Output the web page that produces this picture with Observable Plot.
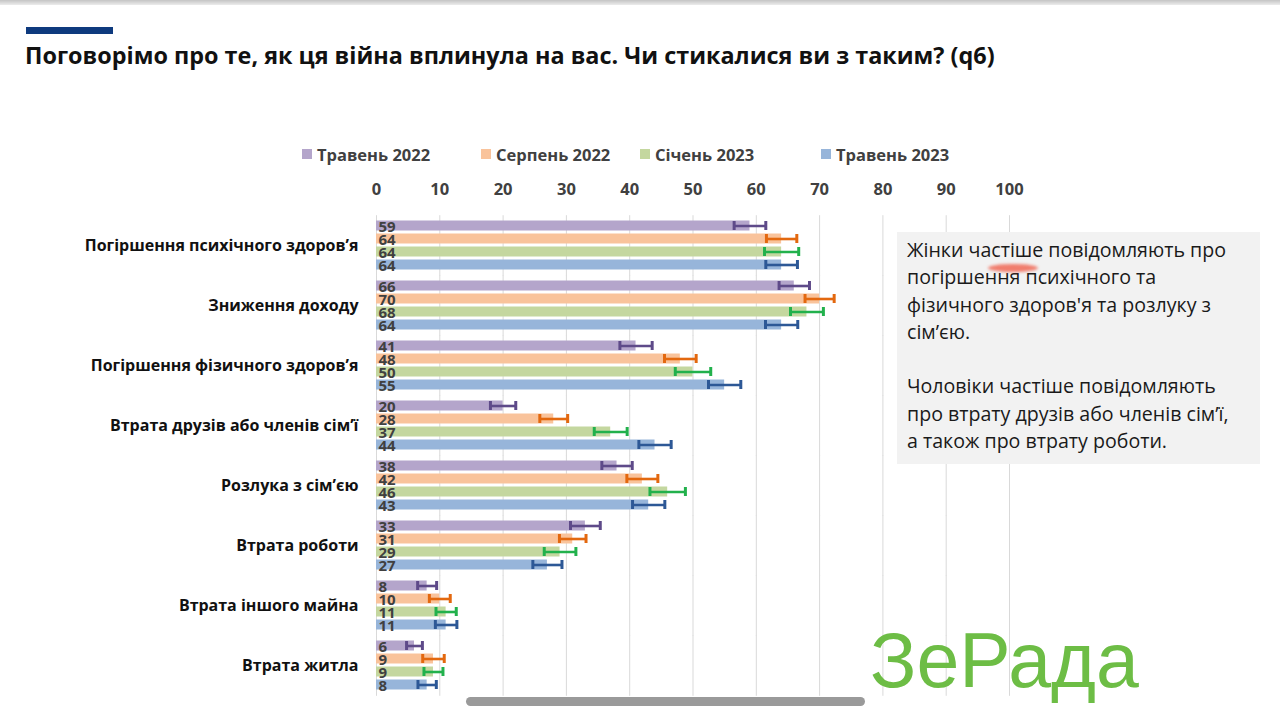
<!DOCTYPE html>
<html><head><meta charset="utf-8">
<script src="https://cdn.jsdelivr.net/npm/d3@7"></script>
<script src="https://cdn.jsdelivr.net/npm/@observablehq/plot@0.6"></script>
<style>
body{margin:0;background:#fff;}
#page{position:relative;width:1280px;height:720px;overflow:hidden;font-family:"Open Sans",sans-serif;background:#fff;}
#page svg{position:absolute;left:0;top:0;}
.topline{position:absolute;left:0;top:0;width:1280px;height:5px;background:linear-gradient(#c4c4c4,#ececec);}
.navy{position:absolute;left:26px;top:27px;width:87px;height:7px;background:#0e3a7e;}
.title{position:absolute;left:25px;top:44px;font-size:23.4px;line-height:23.4px;font-weight:700;color:#111;white-space:nowrap;}
.legend-item{position:absolute;top:144px;height:20px;display:flex;align-items:center;font-size:16.5px;font-weight:700;color:#404040;white-space:nowrap;}
.legend-item span.sw{display:inline-block;width:10px;height:10px;margin-right:5px;}
.note{position:absolute;left:897px;top:232px;width:353px;height:228px;background:#f2f2f2;padding:4px 0 0 10px;font-size:19.6px;line-height:27.3px;color:#1a1a1a;white-space:nowrap;}
.smudge{position:absolute;left:988px;top:264px;width:50px;height:8px;border-radius:50%;background:rgba(240,95,75,.8);filter:blur(1.5px);}
.wm{position:absolute;left:870px;top:622px;font-family:"Liberation Sans",Arial,sans-serif;font-size:77px;line-height:77px;color:#6dbd45;white-space:nowrap;}
.scroll{position:absolute;left:466px;top:697px;width:399px;height:9px;border-radius:5px;background:#9a9a9a;}
</style></head>
<body><div id="page">
<div class="topline"></div>
<div class="navy"></div>
<div class="title">Поговорімо про те, як ця війна вплинула на вас. Чи стикалися ви з таким? (q6)</div>
</div>
<script>
const categories = [
  "Погіршення психічного здоров’я",
  "Зниження доходу",
  "Погіршення фізичного здоров’я",
  "Втрата друзів або членів сім’ї",
  "Розлука з сім’єю",
  "Втрата роботи",
  "Втрата іншого майна",
  "Втрата житла"
];
const series = ["Травень 2022", "Серпень 2022", "Січень 2023", "Травень 2023"];
const may2022 = [59, 66, 41, 20, 38, 33, 8, 6];
const aug2022 = [64, 70, 48, 28, 42, 31, 10, 9];
const jan2023 = [64, 68, 50, 37, 46, 29, 11, 9];
const may2023 = [64, 64, 55, 44, 43, 27, 11, 8];
const errMay2022 = [2.5, 2.4, 2.55, 2.0, 2.4, 2.35, 1.5, 1.25];
const errAug2022 = [2.4, 2.3, 2.5, 2.2, 2.45, 2.1, 1.65, 1.7];
const errJan2023 = [2.7, 2.6, 2.8, 2.6, 2.8, 2.5, 1.6, 1.5];
const errMay2023 = [2.5, 2.55, 2.55, 2.55, 2.55, 2.3, 1.7, 1.45];
const xTicks = [0, 10, 20, 30, 40, 50, 60, 70, 80, 90, 100];
const barColors = ["#b4a5cb", "#f9c39b", "#c4d79f", "#97b5da"];
const errColors = ["#5e4a89", "#e3680f", "#22b14c", "#2d5896"];
const noteLines = [
  "Жінки частіше повідомляють про",
  "погіршення психічного та",
  "фізичного здоров'я та розлуку з",
  "сім’єю.",
  "",
  "Чоловіки частіше повідомляють",
  "про втрату друзів або членів сім’ї,",
  "а також про втрату роботи."
];

const values = [may2022, aug2022, jan2023, may2023];
const errs = [errMay2022, errAug2022, errJan2023, errMay2023];
const rows = [];
categories.forEach((c, i) => series.forEach((s, j) => {
  rows.push({category: c, series: s, value: values[j][i], lo: values[j][i] - errs[j][i], hi: values[j][i] + errs[j][i], fillc: barColors[j], errc: errColors[j]});
}));

const chart = Plot.plot({
  width: 1280, height: 720,
  marginLeft: 376, marginRight: 271, marginTop: 214.5, marginBottom: 23,
  style: {fontFamily: "Open Sans", background: "transparent", overflow: "visible"},
  x: {domain: [0, 100], label: null},
  y: {domain: series, axis: null, paddingInner: 0.23, paddingOuter: 0},
  fy: {domain: categories, paddingInner: 0.15, paddingOuter: 0.075, label: null},
  color: {type: "identity"},
  marks: [
    Plot.ruleX(xTicks, {stroke: "#d9d9d9", strokeWidth: 1, insetTop: -4.8, insetBottom: -4.8}),
    Plot.barX(rows, {x: "value", y: "series", fy: "category", fill: "fillc"}),
    Plot.ruleY(rows, {x1: "lo", x2: "hi", y: "series", fy: "category", stroke: "errc", strokeWidth: 2.6}),
    Plot.tickX(rows, {x: "lo", y: "series", fy: "category", stroke: "errc", strokeWidth: 3, insetTop: 0.5, insetBottom: 0.5}),
    Plot.tickX(rows, {x: "hi", y: "series", fy: "category", stroke: "errc", strokeWidth: 3, insetTop: 0.5, insetBottom: 0.5}),
    Plot.text(rows, {x: 0, y: "series", fy: "category", text: d => String(d.value), textAnchor: "start", dx: 2, dy: 1, fontSize: 15, fontWeight: 700, fill: "#404040"}),
    Plot.axisX({anchor: "top", ticks: xTicks, tickSize: 0, tickPadding: 26, fontSize: 16.5, fontWeight: 700, color: "#404040", label: null}),
    Plot.axisFy({anchor: "left", tickSize: 0, tickPadding: 18, fontSize: 16, fontWeight: 700, color: "#111", label: null})
  ]
});

const page = document.getElementById("page");
page.insertBefore(chart, page.children[1]);

// legend
const legendX = [302, 481, 640, 821];
series.forEach((s, j) => {
  const d = document.createElement("div");
  d.className = "legend-item";
  d.style.left = legendX[j] + "px";
  d.innerHTML = `<span class="sw" style="background:${barColors[j]}"></span>${s}`;
  page.appendChild(d);
});

// note box
const note = document.createElement("div");
note.className = "note";
note.innerHTML = noteLines.map(l => l === "" ? "&nbsp;" : l).join("<br>");
page.appendChild(note);
const sm = document.createElement("div"); sm.className = "smudge"; page.appendChild(sm);

const wm = document.createElement("div"); wm.className = "wm"; wm.textContent = "ЗеРада"; page.appendChild(wm);
const sc = document.createElement("div"); sc.className = "scroll"; page.appendChild(sc);
</script>
</body></html>
